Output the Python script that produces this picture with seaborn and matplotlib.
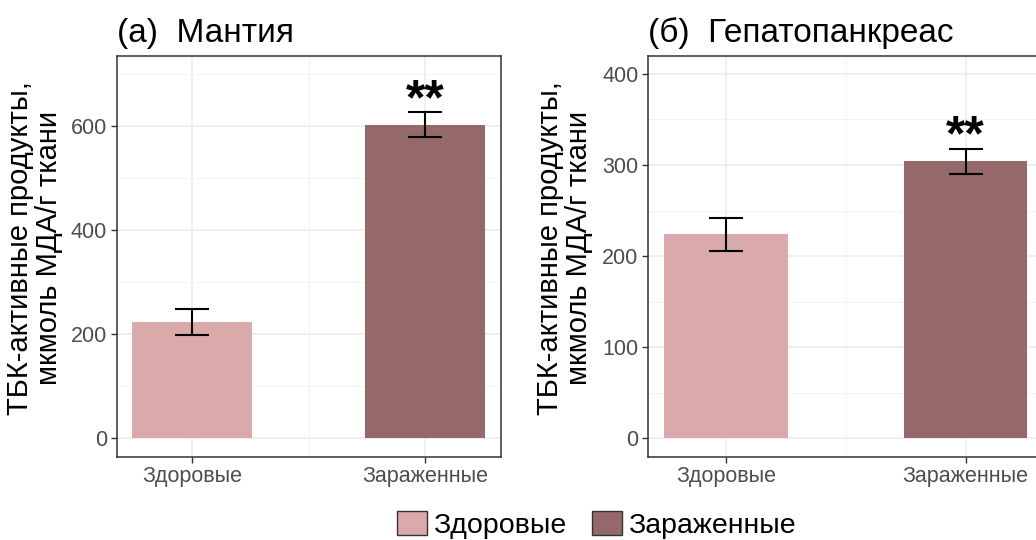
import numpy as np
import pandas as pd
import matplotlib
matplotlib.use("Agg")
import matplotlib.pyplot as plt
import seaborn as sns
from matplotlib.patches import Patch
from matplotlib.ticker import MultipleLocator, FixedLocator

# ---- data ----
groups = ["Здоровые", "Зараженные"]
mantle_mean = [224, 602]
mantle_err = [25, 24]
hepato_mean = [224, 304]
hepato_err = [18, 14]
signif = ["", "**"]
titles = ["(а)  Мантия", "(б)  Гепатопанкреас"]
ylabel = "ТБК-активные продукты,\nмкмоль МДА/г ткани"
colors = ["#DAA9AA", "#956869"]

sns.set_theme(style="white")
plt.rcParams["font.family"] = ["Liberation Sans", "DejaVu Sans"]

fig = plt.figure(figsize=(10.36, 5.4), dpi=100)
ax1 = fig.add_axes([0.1129, 0.1543, 0.3704, 0.742])
ax2 = fig.add_axes([0.6258, 0.1543, 0.3811, 0.742])

panels = [
    (ax1, mantle_mean, mantle_err, titles[0], (-35.4, 734.5), 200, 100),
    (ax2, hepato_mean, hepato_err, titles[1], (-20.2, 419.6), 100, 50),
]

for ax, means, errs, title, ylim, major, minor in panels:
    df = pd.DataFrame({"group": groups, "value": means})
    sns.barplot(data=df, x="group", y="value", hue="group", order=groups,
                hue_order=groups, palette=colors, width=0.515, saturation=1,
                linewidth=0, legend=False, ax=ax, zorder=2)
    ax.errorbar(x=np.arange(len(groups)), y=means, yerr=errs, fmt="none",
                ecolor="black", elinewidth=1.5, capsize=12, capthick=1.5,
                zorder=3)
    for i, s in enumerate(signif):
        if s:
            ax.annotate(s, xy=(i, means[i] + errs[i]), xytext=(0, -1),
                        textcoords="offset points", ha="center", va="baseline",
                        fontsize=36, fontweight="bold", color="black",
                        family="Liberation Sans")
    ax.set_xlim(-0.324, 1.324)
    ax.set_ylim(*ylim)
    ax.yaxis.set_major_locator(MultipleLocator(major))
    ax.yaxis.set_minor_locator(MultipleLocator(minor))
    ax.xaxis.set_minor_locator(FixedLocator([0.5]))
    ax.set_axisbelow(True)
    ax.grid(which="major", color="#EBEBEB", linewidth=1.1, zorder=0)
    ax.grid(which="minor", color="#F3F3F3", linewidth=0.7, zorder=0)
    ax.tick_params(which="minor", length=0)
    ax.tick_params(which="major", axis="both", length=4, width=1,
                   color="#333333", labelsize=15.5, labelcolor="#4D4D4D",
                   bottom=True, left=True, pad=3)
    for sp in ax.spines.values():
        sp.set_color("#333333")
        sp.set_linewidth(1.1)
    ax.set_xlabel("")
    ax.set_ylabel(ylabel, fontsize=21, color="black", linespacing=1.05)
    ax.yaxis.set_label_coords(-0.14, 0.52)
    ax.set_title(title, loc="left", fontsize=24, pad=10, color="black")

handles = [Patch(facecolor=c, edgecolor="#333333", linewidth=1, label=g)
           for g, c in zip(groups, colors)]
fig.legend(handles=handles, loc="center", bbox_to_anchor=(0.576, 0.028),
           ncol=2, frameon=False, fontsize=20.5, handlelength=1.05,
           handleheight=0.95, handletextpad=0.22, columnspacing=0.9,
           borderpad=0, borderaxespad=0, labelcolor="black")

fig.savefig("out.png", dpi=100)
